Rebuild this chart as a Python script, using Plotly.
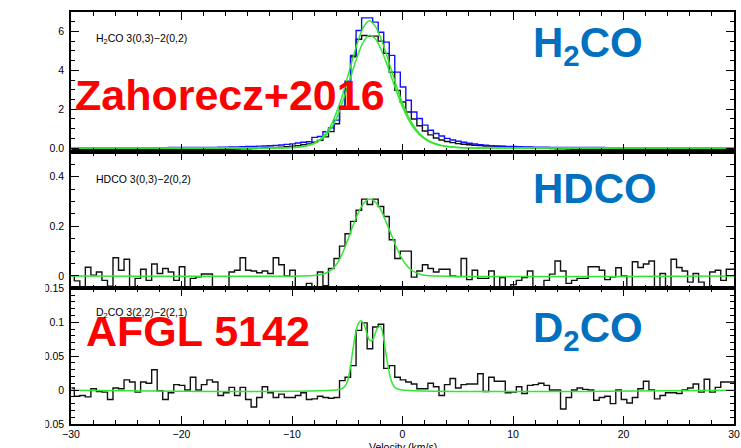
import numpy as np
import plotly.graph_objects as go

# ---------------- data ----------------
V_START = -29.95   # centre of the first channel (km/s)
DV = 0.5           # channel width (km/s)

H2CO_BLUE = [
    0.02, 0.02, 0.02, 0.02, 0.02, 0.02, 0.02, 0.02, 0.02, 0.02,
    0.02, 0.02, 0.02, 0.02, 0.02, 0.02, 0.02, 0.02, 0.03, 0.03,
    0.03, 0.03, 0.03, 0.03, 0.03, 0.04, 0.04, 0.05, 0.05, 0.06,
    0.06, 0.07, 0.08, 0.09, 0.10, 0.11, 0.12, 0.14, 0.16, 0.19,
    0.22, 0.26, 0.30, 0.33, 0.55, 0.60, 0.84, 1.04, 1.44, 2.15,
    3.44, 4.77, 6.05, 6.70, 6.70, 6.48, 5.96, 5.45, 4.77, 3.91,
    3.14, 2.46, 1.86, 1.52, 1.18, 0.92, 0.75, 0.62, 0.50, 0.42,
    0.35, 0.30, 0.25, 0.21, 0.18, 0.15, 0.13, 0.11, 0.10, 0.09,
    0.08, 0.07, 0.06, 0.06, 0.05, 0.05, 0.05, 0.04, 0.04, 0.04,
    0.04, 0.03, 0.03, 0.03, 0.03, 0.03, 0.03, 0.02, 0.02, 0.02,
    0.02, 0.02, 0.02, 0.02, 0.02, 0.02, 0.02, 0.02, 0.02, 0.02,
    0.02, 0.02, 0.02, 0.02, 0.02, 0.02, 0.02, 0.02, 0.02, 0.02, 0.02,
]

H2CO_BLACK = [
    -0.06, -0.06, -0.06, -0.06, -0.06, -0.06, -0.06, -0.06, -0.06, -0.06,
    -0.06, -0.06, -0.06, -0.06, -0.06, -0.06, -0.06, -0.06, -0.06, -0.06,
    -0.06, -0.06, -0.06, -0.06, -0.06, -0.06, -0.06, -0.06, -0.06, -0.06,
    -0.05, -0.04, -0.03, -0.02, 0.00, 0.02, 0.03, 0.04, 0.05, 0.07,
    0.10, 0.13, 0.17, 0.22, 0.30, 0.40, 0.58, 0.85, 1.25, 2.00,
    3.30, 4.70, 5.60, 5.79, 5.76, 5.76, 5.50, 4.87, 3.90, 2.97,
    2.37, 1.86, 1.50, 1.15, 0.88, 0.68, 0.52, 0.42, 0.34, 0.28,
    0.23, 0.20, 0.17, 0.15, 0.13, 0.11, 0.10, 0.09, 0.08, 0.07,
    0.06, 0.05, 0.04, 0.03, 0.02, 0.01, 0.00, -0.02, -0.03, -0.04,
    -0.05, -0.06, -0.06, -0.06, -0.06, -0.06, -0.06, -0.06, -0.06, -0.06,
    -0.06, -0.06, -0.06, -0.06, -0.06, -0.06, -0.06, -0.06, -0.06, -0.06,
    -0.06, -0.06, -0.06, -0.06, -0.06, -0.06, -0.06, -0.06, -0.06, -0.06, -0.06,
]

HDCO = [
    0.000, -0.020, -0.045, 0.035, 0.003, 0.016, -0.018, -0.042, 0.073, 0.023,
    0.067, -0.045, -0.010, 0.027, -0.018, 0.048, 0.010, 0.030, 0.016, -0.018,
    0.037, -0.045, -0.010, -0.004, 0.008, 0.008, -0.045, -0.050, -0.045, 0.016,
    0.023, 0.073, 0.023, 0.020, 0.013, 0.020, 0.010, 0.073, 0.045, 0.000,
    0.023, -0.045, -0.045, -0.030, -0.050, 0.016, -0.040, 0.030, 0.070, 0.120,
    0.170, 0.220, 0.265, 0.310, 0.288, 0.310, 0.280, 0.240, 0.146, 0.070,
    0.100, 0.100, -0.005, 0.020, 0.045, 0.030, 0.016, 0.027, 0.027, 0.000,
    -0.003, 0.070, -0.015, 0.023, -0.010, -0.010, 0.020, -0.048, -0.007, -0.045,
    -0.035, -0.018, -0.007, 0.020, -0.045, -0.048, -0.018, 0.007, 0.060, 0.020,
    -0.030, -0.018, -0.010, -0.010, 0.037, 0.037, 0.023, -0.015, -0.004, 0.033,
    0.000, -0.045, 0.057, 0.034, 0.048, 0.060, -0.045, 0.010, -0.045, 0.067,
    0.034, 0.020, -0.025, 0.010, -0.025, -0.045, 0.016, 0.023, -0.018, 0.027, 0.027,
]

D2CO = [
    0.003, -0.009, -0.008, -0.010, 0.002, -0.002, -0.003, -0.014, 0.003, 0.002,
    0.015, 0.012, -0.003, 0.012, 0.010, 0.030, -0.001, -0.014, -0.004, 0.008,
    0.007, 0.000, 0.019, 0.000, 0.008, 0.015, 0.012, -0.008, -0.004, 0.004,
    -0.008, 0.004, -0.014, -0.025, -0.011, 0.005, -0.004, -0.011, -0.006, -0.011,
    -0.011, -0.008, -0.004, -0.014, -0.013, -0.009, -0.011, -0.012, -0.011, 0.014,
    0.019, 0.036, 0.088, 0.099, 0.061, 0.093, 0.097, 0.032, 0.036, 0.019,
    0.015, 0.012, 0.009, 0.002, 0.002, 0.010, 0.005, -0.008, 0.008, 0.017,
    0.003, 0.008, 0.009, 0.009, 0.024, -0.002, 0.019, 0.013, 0.013, -0.004,
    -0.003, 0.005, -0.005, 0.007, 0.008, 0.010, 0.007, 0.000, 0.000, -0.028,
    -0.011, 0.000, 0.003, 0.001, 0.000, -0.015, -0.011, -0.009, -0.020, 0.000,
    -0.014, -0.019, -0.011, 0.002, 0.013, 0.000, -0.013, -0.008, -0.004, -0.004,
    -0.005, 0.000, 0.003, 0.009, -0.003, 0.016, -0.003, 0.004, 0.012, 0.012, 0.012,
]

# fitted profiles (green)
FIT_V_TOP = [-31, -14, -12, -11, -10, -9.5, -9, -8.5, -8, -7.5, -7, -6.5, -6, -5.5,
             -5, -4.5, -4, -3.5, -3, -2.5, -2, -1.5, -1, -0.5, 0, 0.5, 1, 1.5,
             2, 2.5, 3, 3.5, 4, 5, 6, 8, 31]
FIT_H2CO_A = [0, 0, 0, 0.01, 0.03, 0.05, 0.09, 0.15, 0.25, 0.42, 0.72, 1.15, 1.8, 2.6,
              3.6, 4.6, 5.55, 6.25, 6.55, 6.3, 5.7, 4.9, 4.0, 3.1, 2.3, 1.65, 1.15, 0.78,
              0.52, 0.34, 0.22, 0.14, 0.09, 0.03, 0.01, 0, 0]
FIT_H2CO_B = [0, 0, 0, 0.01, 0.03, 0.05, 0.08, 0.14, 0.23, 0.38, 0.62, 0.98, 1.5, 2.25,
              3.1, 4.0, 4.85, 5.5, 5.8, 5.65, 5.15, 4.45, 3.65, 2.85, 2.12, 1.52, 1.05, 0.72,
              0.48, 0.31, 0.2, 0.13, 0.08, 0.03, 0.01, 0, 0]

FIT_V_HDCO = [-31, -9, -8, -7.5, -7, -6.5, -6, -5.5, -5, -4.5, -4, -3.5, -3, -2.5, -2,
              -1.5, -1, -0.5, 0, 0.5, 1, 1.5, 2, 3, 31]
FIT_HDCO = [0, 0, 0.002, 0.005, 0.01, 0.022, 0.045, 0.085, 0.14, 0.2, 0.255, 0.293, 0.31,
            0.3, 0.27, 0.22, 0.165, 0.11, 0.066, 0.036, 0.018, 0.008, 0.003, 0, 0]

FIT_V_D2CO = [-31, -6, -5.5, -5.25, -5, -4.75, -4.5, -4.25, -4, -3.75, -3.5, -3.25, -3,
              -2.75, -2.5, -2.25, -2, -1.75, -1.5, -1.25, -1, -0.75, -0.5, 0, 31]
FIT_D2CO = [0, 0, 0.002, 0.005, 0.012, 0.03, 0.058, 0.083, 0.098, 0.102, 0.097, 0.085,
            0.074, 0.073, 0.082, 0.092, 0.094, 0.08, 0.054, 0.03, 0.013, 0.005, 0.002, 0, 0]

X_TICKS = [-30, -20, -10, 0, 10, 20, 30]
Y1_TICKS = [0, 2, 4, 6]
Y1_TEXT = ["0.0", "2", "4", "6"]
Y2_TICKS = [0, 0.2, 0.4]
Y2_TEXT = ["0", "0.2", "0.4"]
Y3_TICKS = [-0.05, 0, 0.05, 0.1, 0.15]
Y3_TEXT = ["\u22120.05", "0", "0.05", "0.1", "0.15"]

# ---------------- figure ----------------
vel = V_START + DV * np.arange(len(HDCO))

GREEN = "#33e633"
BLUE = "#1010ff"
BLACK = "#111111"

fig = go.Figure()
hist = dict(mode="lines", line_shape="hvh", hoverinfo="skip", showlegend=False)
fit = dict(mode="lines", line_shape="spline", hoverinfo="skip", showlegend=False)

fig.add_trace(go.Scatter(x=vel, y=H2CO_BLACK, line=dict(color=BLACK, width=1.4), xaxis="x", yaxis="y", **hist))
fig.add_trace(go.Scatter(x=vel, y=H2CO_BLUE, line=dict(color=BLUE, width=1.4), xaxis="x", yaxis="y", **hist))
fig.add_trace(go.Scatter(x=FIT_V_TOP, y=FIT_H2CO_B, line=dict(color=GREEN, width=1.5), xaxis="x", yaxis="y", **fit))
fig.add_trace(go.Scatter(x=FIT_V_TOP, y=FIT_H2CO_A, line=dict(color=GREEN, width=1.5), xaxis="x", yaxis="y", **fit))

fig.add_trace(go.Scatter(x=vel, y=HDCO, line=dict(color=BLACK, width=1.4), xaxis="x2", yaxis="y2", **hist))
fig.add_trace(go.Scatter(x=FIT_V_HDCO, y=FIT_HDCO, line=dict(color=GREEN, width=1.5), xaxis="x2", yaxis="y2", **fit))

fig.add_trace(go.Scatter(x=vel, y=D2CO, line=dict(color=BLACK, width=1.4), xaxis="x3", yaxis="y3", **hist))
fig.add_trace(go.Scatter(x=FIT_V_D2CO, y=FIT_D2CO, line=dict(color=GREEN, width=1.5), xaxis="x3", yaxis="y3", **fit))

W, H = 741, 448
ML, MR, MT, MB = 71, 7, 12, 24
PW, PH = W - ML - MR, H - MT - MB


def px(x):
    return (x - ML) / PW


def py(y):
    return (H - MB - y) / PH


TICKFONT = dict(family="Arial, Liberation Sans, sans-serif", size=10.5, color="black")
common = dict(showline=True, linecolor="black", linewidth=1.5, mirror="allticks",
              ticks="inside", ticklen=8, tickwidth=1.2, tickcolor="black",
              showgrid=False, zeroline=False, tickfont=TICKFONT)

x_common = dict(common, range=[-30, 30], tickmode="array", tickvals=X_TICKS,
                minor=dict(ticks="inside", ticklen=4, tickwidth=1, tickcolor="black",
                           tickmode="linear", tick0=0, dtick=2, showgrid=False))

b1, b2 = py(288.3), py(152)

fig.update_layout(
    width=W, height=H,
    margin=dict(l=ML, r=MR, t=MT, b=MB, autoexpand=False),
    paper_bgcolor="white", plot_bgcolor="white",
    xaxis=dict(x_common, anchor="y", domain=[0, 1], showticklabels=False),
    xaxis2=dict(x_common, anchor="y2", domain=[0, 1], showticklabels=False),
    xaxis3=dict(x_common, anchor="y3", domain=[0, 1], showticklabels=True),
    yaxis=dict(common, anchor="x", domain=[b2, 1], range=[-0.2, 7],
               tickmode="array", tickvals=Y1_TICKS, ticktext=Y1_TEXT, ticklabelstandoff=3,
               minor=dict(ticks="inside", ticklen=4, tickwidth=1, tickcolor="black",
                          tickmode="linear", tick0=0, dtick=0.5, showgrid=False)),
    yaxis2=dict(common, anchor="x2", domain=[b1, b2], range=[-0.05, 0.5],
                tickmode="array", tickvals=Y2_TICKS, ticktext=Y2_TEXT, ticklabelstandoff=3,
                minor=dict(ticks="inside", ticklen=4, tickwidth=1, tickcolor="black",
                           tickmode="linear", tick0=0, dtick=0.05, showgrid=False)),
    yaxis3=dict(common, anchor="x3", domain=[0, b1], range=[-0.05, 0.15],
                tickmode="array", tickvals=Y3_TICKS, ticktext=Y3_TEXT, ticklabelstandoff=3,
                minor=dict(ticks="inside", ticklen=4, tickwidth=1, tickcolor="black",
                           tickmode="linear", tick0=0, dtick=0.01, showgrid=False)),
)

BIG = "Arial, Liberation Sans, sans-serif"
RED = "#ff0000"
OFFICE_BLUE = "#0070c0"

annots = [
    dict(text="Zahorecz+2016", x=px(73), y=py(94.7), xanchor="left", yanchor="middle",
         font=dict(family=BIG, size=43, color=RED, weight="bold")),
    dict(text="AFGL 5142", x=px(84), y=py(331.3), xanchor="left", yanchor="middle",
         font=dict(family=BIG, size=43, color=RED, weight="bold")),
    dict(text="H<sub>2</sub>CO", x=px(531), y=py(17), xanchor="left", yanchor="top",
         font=dict(family=BIG, size=42, color=OFFICE_BLUE, weight="bold")),
    dict(text="HDCO", x=px(531), y=py(163), xanchor="left", yanchor="top",
         font=dict(family=BIG, size=42, color=OFFICE_BLUE, weight="bold")),
    dict(text="D<sub>2</sub>CO", x=px(531), y=py(302), xanchor="left", yanchor="top",
         font=dict(family=BIG, size=42, color=OFFICE_BLUE, weight="bold")),
    dict(text="H<sub>2</sub>CO 3(0,3)\u22122(0,2)", x=px(94), y=py(38.5), xanchor="left", yanchor="middle",
         font=dict(family=BIG, size=10.5, color="black")),
    dict(text="HDCO 3(0,3)\u22122(0,2)", x=px(94), y=py(178.7), xanchor="left", yanchor="middle",
         font=dict(family=BIG, size=10.5, color="black")),
    dict(text="D<sub>2</sub>CO 3(2,2)\u22122(2,1)", x=px(94), y=py(313), xanchor="left", yanchor="middle",
         font=dict(family=BIG, size=10.5, color="black")),
    dict(text="Velocity (km/s)", x=px(402.5), y=0, xanchor="center", yanchor="top", yshift=-15,
         font=dict(family=BIG, size=10.5, color="black")),
]
for a in annots:
    a.update(xref="paper", yref="paper", showarrow=False)
fig.update_layout(annotations=annots)

# the original figure is cropped on its left edge
fig.add_shape(type="rect", xref="paper", yref="paper", x0=px(-20), x1=px(45.5),
              y0=py(470), y1=py(-20), fillcolor="white", line=dict(width=0), layer="above")

fig.write_html("out.html")
